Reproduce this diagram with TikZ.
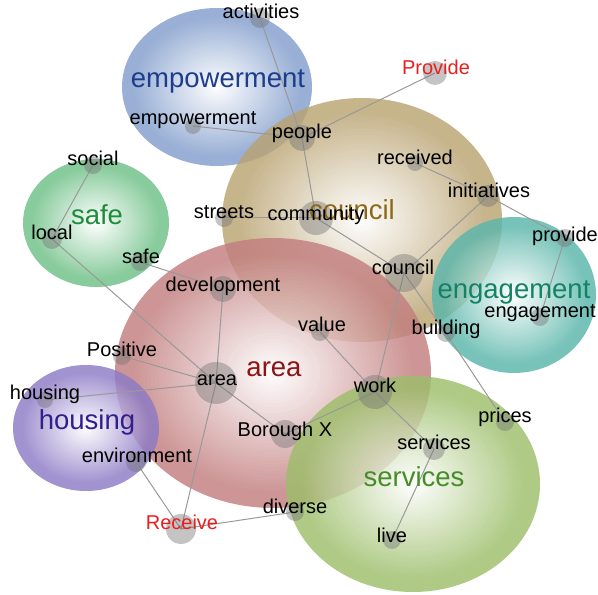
\documentclass[tikz,border=0pt]{standalone}
\usepackage{fontspec}
\setmainfont{Liberation Sans}
\usetikzlibrary{backgrounds}

\definecolor{empblue}{RGB}{130,158,204}
\definecolor{cnclbrown}{RGB}{186,163,114}
\definecolor{safegreen}{RGB}{110,192,134}
\definecolor{areared}{RGB}{194,126,126}
\definecolor{engteal}{RGB}{90,182,170}
\definecolor{houspurple}{RGB}{140,122,198}
\definecolor{servgreen}{RGB}{156,190,106}
\definecolor{empText}{RGB}{30,60,140}
\definecolor{cnclText}{RGB}{140,105,20}
\definecolor{safeText}{RGB}{30,140,60}
\definecolor{areaText}{RGB}{140,20,20}
\definecolor{engText}{RGB}{20,130,100}
\definecolor{housText}{RGB}{50,30,140}
\definecolor{servText}{RGB}{70,140,40}
\definecolor{redword}{RGB}{235,30,30}

% bubble: colour, centre, x radius, y radius (white in the middle)
\newcommand\bubble[4]{%
  \begin{scope}[transparency group,opacity=.82]
    \foreach \k in {0,...,39}{
      \pgfmathsetmacro\f{1-\k/40}
      \pgfmathsetmacro\p{min(100,112*\f)}
      \fill[#1!\p!white] #2 ellipse [x radius=\f*#3,y radius=\f*#4];
    }
  \end{scope}}

\tikzset{
  hub/.style={circle,fill=black!55,fill opacity=.42,inner sep=0pt,minimum size=#1},
  term/.style={inner sep=0pt,text height=14pt,text depth=0pt,font=\fontsize{20}{21}\selectfont},
  theme/.style={inner sep=0pt,text height=19pt,text depth=0pt,font=\fontsize{27.5}{28}\selectfont,text=#1},
  link/.style={draw=black!40,line width=1pt}
}

\begin{document}
\begin{tikzpicture}[x=1pt,y=1pt]
  \useasboundingbox (0,0) rectangle (598,595);

  % hubs
  \node[hub=20] (activities) at (260,577) {};
  \node[hub=16] (emp) at (193,469) {};
  \node[hub=26] (people) at (302,457) {};
  \node[hub=24] (Provide) at (435,522) {};
  \node[hub=16] (received) at (415,432) {};
  \node[hub=22] (initiatives) at (488,399) {};
  \node[hub=34] (community) at (316,377) {};
  \node[hub=18] (streets) at (224,377) {};
  \node[hub=38] (cncl) at (404,322) {};
  \node[hub=18] (provide) at (565,357) {};
  \node[hub=18] (eng) at (540,278) {};
  \node[hub=18] (building) at (446,262) {};
  \node[hub=18] (value) at (320,263) {};
  \node[hub=26] (development) at (223,306) {};
  \node[hub=18] (social) at (93,430) {};
  \node[hub=20] (local) at (52,356) {};
  \node[hub=18] (sf) at (140,333) {};
  \node[hub=18] (Positive) at (122,239) {};
  \node[hub=42] (ar) at (216,212) {};
  \node[hub=16] (hous) at (45,195) {};
  \node[hub=20] (environment) at (136,133) {};
  \node[hub=28] (borough) at (285,161) {};
  \node[hub=34] (work) at (375,203) {};
  \node[hub=18] (prices) at (505,173) {};
  \node[hub=22] (serv) at (434,146) {};
  \node[hub=18] (diverse) at (295,83) {};
  \node[hub=30] (Receive) at (181,66) {};
  \node[hub=18] (live) at (392,55) {};

  % words
  \node[term] (activities-t) at (261,583) {activities};
  \node[term] (emp-t) at (193,477) {empowerment};
  \node[term] (people-t) at (302,463) {people};
  \node[term,text=redword] (Provide-t) at (436,527) {Provide};
  \node[term] (received-t) at (415,437) {received};
  \node[term] (initiatives-t) at (489,404) {initiatives};
  \node[term] (streets-t) at (224,383) {streets};
  \node[term] (cncl-t) at (403,327) {council};
  \node[term] (provide-t) at (565,360) {provide};
  \node[term] (eng-t) at (540,284) {engagement};
  \node[term] (building-t) at (446,267) {building};
  \node[term] (value-t) at (322,270) {value};
  \node[term] (development-t) at (223,310) {development};
  \node[term] (social-t) at (93,436) {social};
  \node[term] (local-t) at (52,362) {local};
  \node[term] (sf-t) at (141,338) {safe};
  \node[term] (Positive-t) at (122,245) {Positive};
  \node[term] (ar-t) at (217,216) {area};
  \node[term] (hous-t) at (45,202) {housing};
  \node[term] (environment-t) at (137,139) {environment};
  \node[term] (borough-t) at (285,165) {Borough X};
  \node[term] (work-t) at (375,209) {work};
  \node[term] (prices-t) at (505,179) {prices};
  \node[term] (serv-t) at (434,152) {services};
  \node[term] (diverse-t) at (295,88) {diverse};
  \node[term,text=redword] (Receive-t) at (182,72) {Receive};
  \node[term] (live-t) at (392,59) {live};

  % themes
  \node[theme=empText] (Emp) at (218,517) {empowerment};
  \node[theme=cnclText] (Cncl) at (352,385) {council};
  \node[term] (community-t) at (316,381) {community};
  \node[theme=safeText] (Sf) at (97,380) {safe};
  \node[theme=areaText] (Ar) at (274,228) {area};
  \node[theme=engText] (Eng) at (514,306) {engagement};
  \node[theme=housText] (Hous) at (87,175) {housing};
  \node[theme=servText] (Serv) at (414,118) {services};

  \begin{scope}[on background layer]
    \bubble{empblue}{(217,508)}{95}{79}
    \bubble{cnclbrown}{(362,375)}{140}{122}
    \bubble{safegreen}{(96,372)}{73}{64}
    \bubble{areared}{(273,222)}{158}{135}
    \bubble{engteal}{(514,300)}{82}{78}
    \bubble{houspurple}{(86,167)}{73}{63}
    \bubble{servgreen}{(413,111)}{127}{108}

    \draw[link] (activities.center) -- (people.center);
    \draw[link] (emp.center) -- (people.center);
    \draw[link] (people.center) -- (Provide.center);
    \draw[link] (people.center) -- (community.center);
    \draw[link] (streets.center) -- (community.center);
    \draw[link] (community.center) -- (cncl.center);
    \draw[link] (received.center) -- (initiatives.center);
    \draw[link] (initiatives.center) -- (provide.center);
    \draw[link] (initiatives.center) -- (cncl.center);
    \draw[link] (provide.center) -- (eng.center);
    \draw[link] (cncl.center) -- (work.center);
    \draw[link] (cncl.center) -- (building.center);
    \draw[link] (building.center) -- (prices.center);
    \draw[link] (value.center) -- (work.center);
    \draw[link] (work.center) -- (serv.center);
    \draw[link] (work.center) -- (borough.center);
    \draw[link] (serv.center) -- (live.center);
    \draw[link] (social.center) -- (local.center);
    \draw[link] (local.center) -- (ar.center);
    \draw[link] (sf.center) -- (development.center);
    \draw[link] (development.center) -- (ar.center);
    \draw[link] (Positive.center) -- (ar.center);
    \draw[link] (hous.center) -- (ar.center);
    \draw[link] (ar.center) -- (borough.center);
    \draw[link] (ar.center) -- (Receive.center);
    \draw[link] (environment.center) -- (Receive.center);
    \draw[link] (Receive.center) -- (diverse.center);
  \end{scope}
\end{tikzpicture}
\end{document}
